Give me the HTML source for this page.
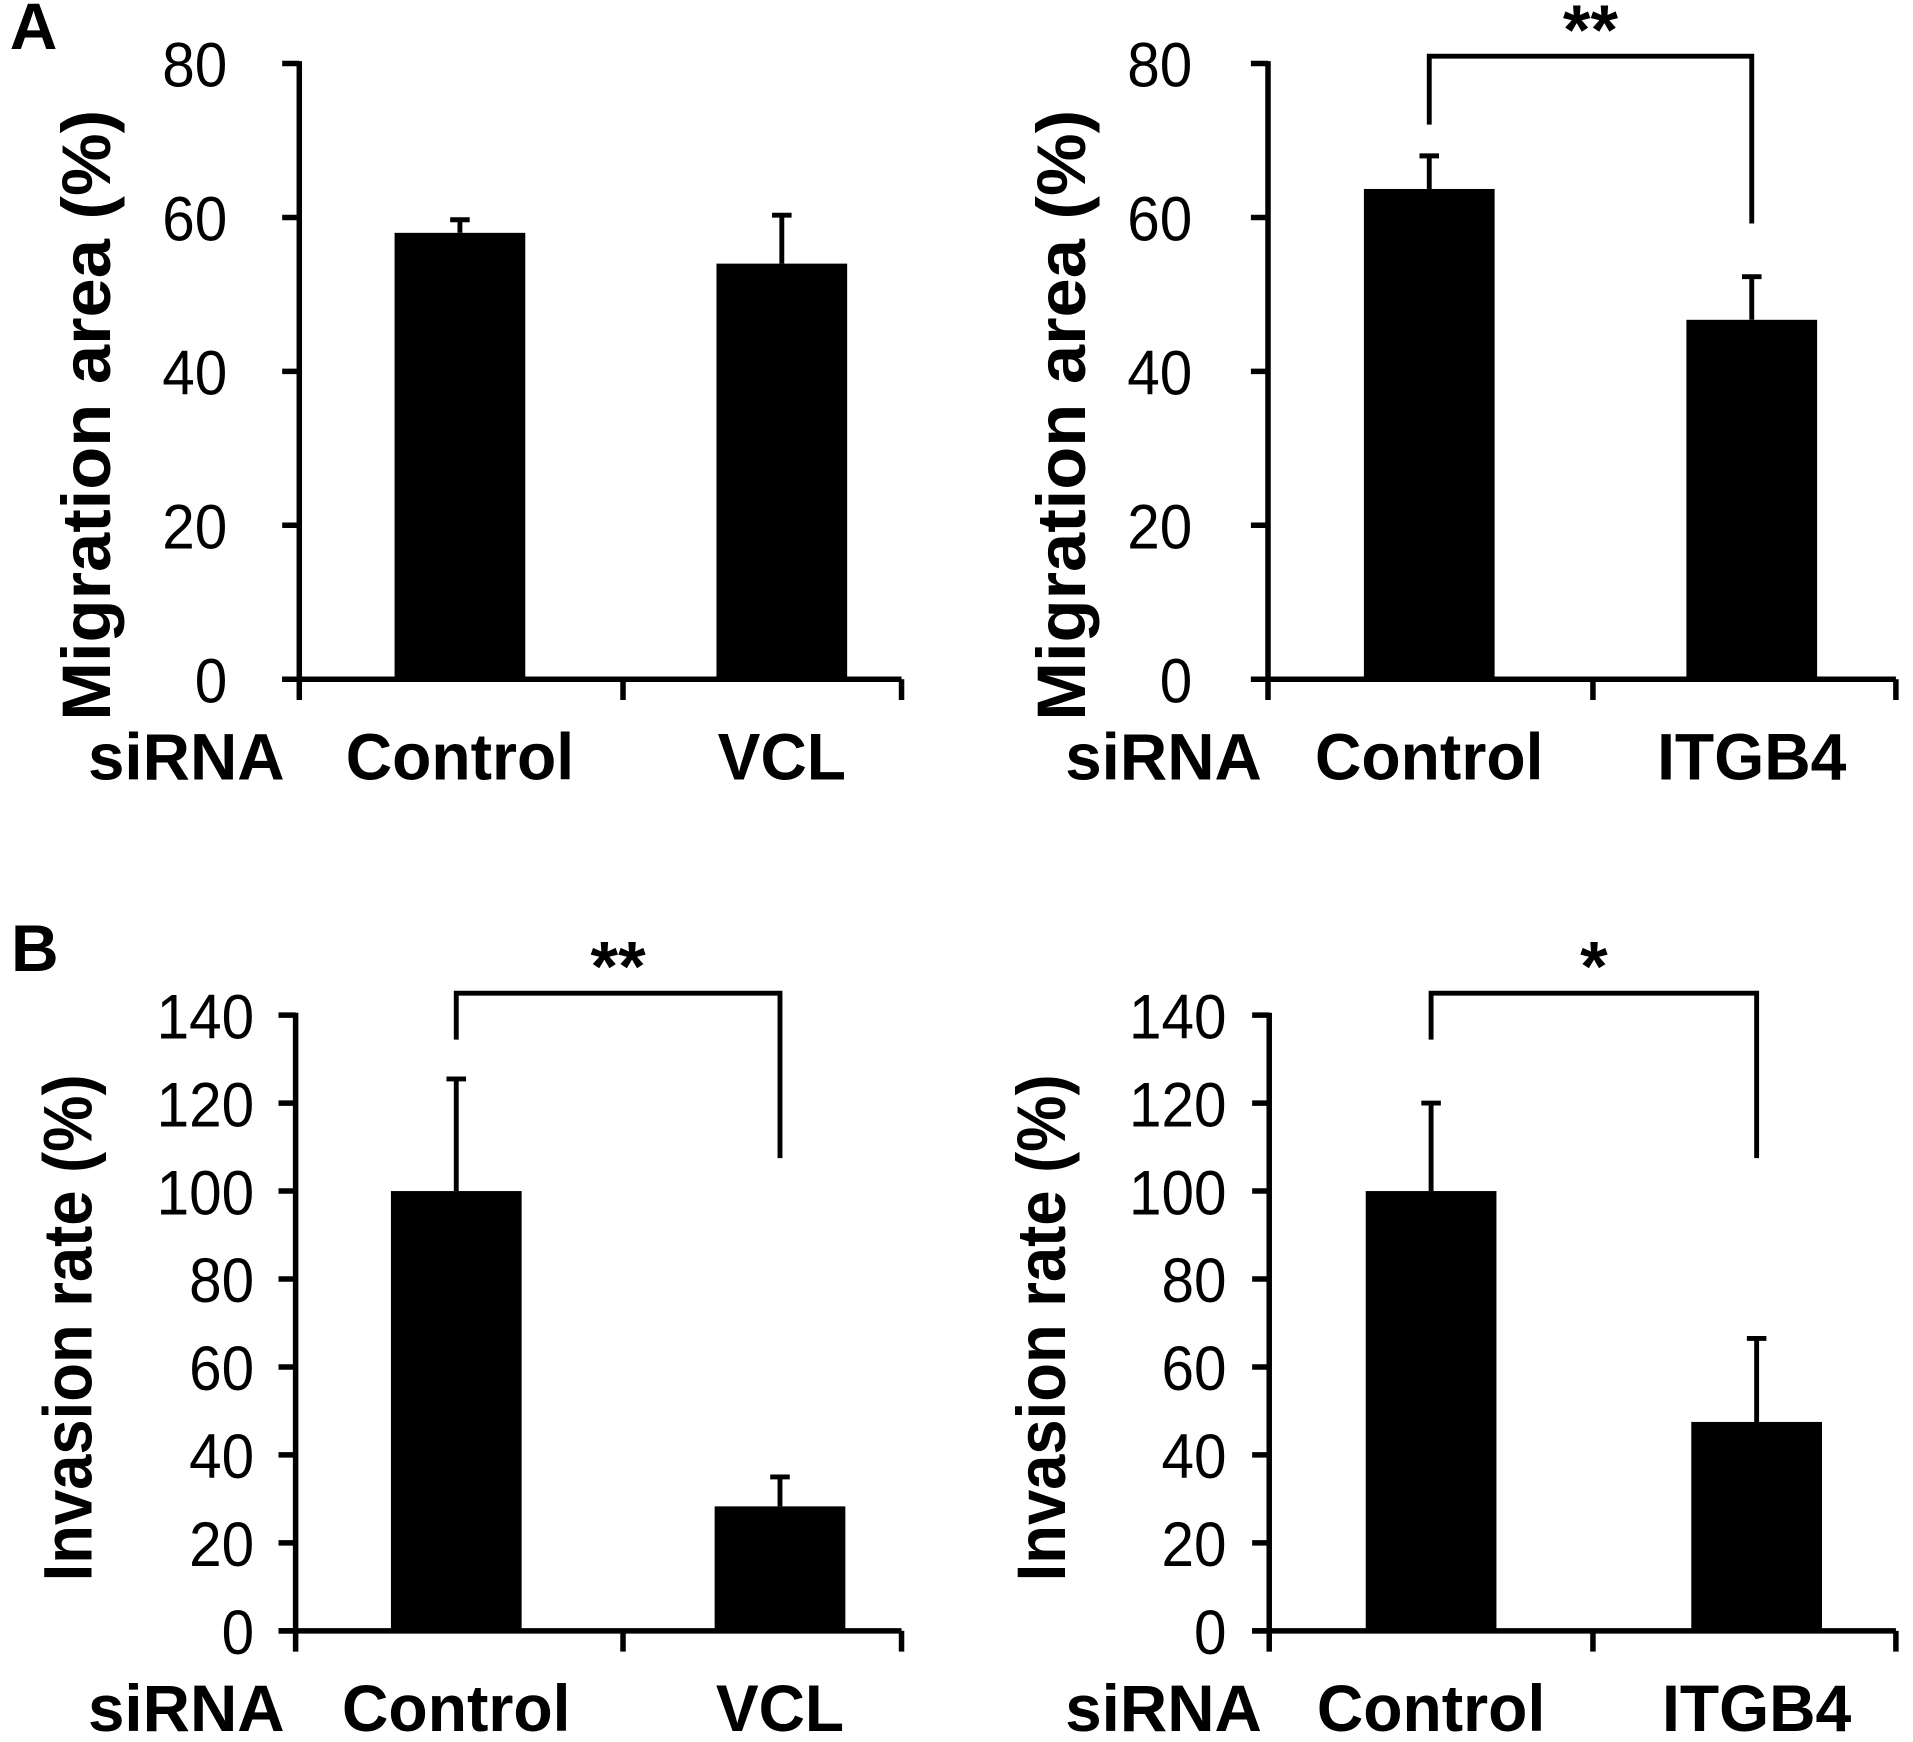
<!DOCTYPE html>
<html><head><meta charset="utf-8"><style>
html,body{margin:0;padding:0;background:#fff;}
svg{display:block;}
text{font-family:"Liberation Sans",Arial,sans-serif;fill:#000;}
</style></head><body>
<svg id="fig" width="1913" height="1742" viewBox="0 0 1566 1426" preserveAspectRatio="none" xmlns="http://www.w3.org/2000/svg">
<text x="8" y="40" font-size="54" font-weight="bold">A</text>
<text x="9" y="795" font-size="54" font-weight="bold">B</text>
</svg>
<script>
const categoriesA1 = ["Control","VCL"];
const valuesA1 = [58, 54];
const errorsA1 = [59.7, 60.3];
const categoriesA2 = ["Control","ITGB4"];
const valuesA2 = [63.7, 46.7];
const errorsA2 = [68, 52.3];
const categoriesB1 = ["Control","VCL"];
const valuesB1 = [100, 28.3];
const errorsB1 = [125.5, 35];
const categoriesB2 = ["Control","ITGB4"];
const valuesB2 = [100, 47.5];
const errorsB2 = [120, 66.5];
const ticksA = [0,20,40,60,80];
const ticksB = [0,20,40,60,80,100,120,140];

const NS="http://www.w3.org/2000/svg";
const svg=document.getElementById('fig');
function mk(tag,attrs,parent){const e=document.createElementNS(NS,tag);for(const k in attrs)e.setAttribute(k,attrs[k]);(parent||svg).appendChild(e);return e;}
const labelW={"Control":187,"VCL":105,"ITGB4":155};

function panel(o){
  const g=mk('g',{});
  
  
  const y=v=>o.y0-(v/o.max)*(o.y0-o.yTop);
  const barW=107;
  const cx=o.cx;
  const ya=mk('line',{x1:o.x0,y1:o.yTop-2,x2:o.x0,y2:o.y0+17,stroke:'#000','stroke-width':4.5},g);
  
  
  const xa=mk('line',{x1:o.x0-14,y1:o.y0,x2:o.x1,y2:o.y0,stroke:'#000','stroke-width':4.5},g);
  
  
  [o.xm, o.x1].forEach(xx=>{
    const t=mk('line',{x1:xx,y1:o.y0,x2:xx,y2:o.y0+17,stroke:'#000','stroke-width':4.5},g);
    
    
  });
  o.ticks.forEach(v=>{
    const t=mk('line',{x1:o.x0-14,y1:y(v),x2:o.x0,y2:y(v),stroke:'#000','stroke-width':4.5},g);
    
    
    const tl=mk('text',{x:0,y:0,'font-size':52,'text-anchor':'end',transform:`translate(${o.labX},${y(v)+19}) scale(0.92,1)`},g);
    tl.textContent=v;
    
    
  });
  o.vals.forEach((v,i)=>{
    const eb=mk('line',{x1:cx[i],y1:y(o.errs[i]),x2:cx[i],y2:y(v),stroke:'#000','stroke-width':4},g);
    
    
    const cap=mk('line',{x1:cx[i]-8,y1:y(o.errs[i]),x2:cx[i]+8,y2:y(o.errs[i]),stroke:'#000','stroke-width':4},g);
    
    
    const r=mk('rect',{x:cx[i]-barW/2,y:y(v),width:barW,height:o.y0-y(v),fill:'#000'},g);
    
    
    const w=labelW[o.cats[i]]||150;
    const cl=mk('text',{x:cx[i]-w/2,y:o.lblY,'font-size':54,'font-weight':'bold',textLength:w,lengthAdjust:'spacingAndGlyphs'},g);
    cl.textContent=o.cats[i];
    
    
  });
  const s=mk('text',{x:o.sx,y:o.lblY,'font-size':54,'font-weight':'bold',textLength:161,lengthAdjust:'spacingAndGlyphs'},g);
  s.textContent='siRNA';
  
  
  const tt=mk('text',{x:-o.titleLen/2,y:0,'font-size':56,'font-weight':'bold',textLength:o.titleLen,lengthAdjust:'spacingAndGlyphs',transform:`translate(${o.titleX},${o.titleY}) rotate(-90)`},g);
  tt.textContent=o.title;
  
  
  if(o.sig){
    const b=mk('path',{d:`M${cx[0]},${o.sig.l} V${o.sig.y} H${cx[1]} V${o.sig.r}`,fill:'none',stroke:'#000','stroke-width':4},g);
    
    
    const st=mk('text',{x:(cx[0]+cx[1])/2,y:o.sig.y-2,'font-size':58,'font-weight':'bold','text-anchor':'middle'},g);
    st.textContent=o.sig.t;
    
    
  }
}
panel({name:'panel-a-vcl',x0:245,x1:738,xm:510,cx:[376.5,640],yTop:52,y0:556,max:80,ticks:ticksA,vals:valuesA1,errs:errorsA1,cats:categoriesA1,labX:186,lblY:638,sx:72,title:'Migration area (%)',titleLen:500,titleX:90,titleY:340});
panel({name:'panel-a-itgb4',x0:1038,x1:1552,xm:1304,cx:[1170,1434],yTop:52,y0:556,max:80,ticks:ticksA,vals:valuesA2,errs:errorsA2,cats:categoriesA2,labX:976,lblY:638,sx:872,title:'Migration area (%)',titleLen:500,titleX:888,titleY:340,sig:{y:46,l:102,r:183,t:'**'}});
panel({name:'panel-b-vcl',x0:242,x1:738,xm:510,cx:[373.5,638.5],yTop:831,y0:1335,max:140,ticks:ticksB,vals:valuesB1,errs:errorsB1,cats:categoriesB1,labX:208,lblY:1417,sx:72,title:'Invasion rate (%)',titleLen:415,titleX:75,titleY:1087,sig:{y:813,l:851,r:948,t:'**'}});
panel({name:'panel-b-itgb4',x0:1039,x1:1552,xm:1304,cx:[1171.5,1438],yTop:831,y0:1335,max:140,ticks:ticksB,vals:valuesB2,errs:errorsB2,cats:categoriesB2,labX:1004,lblY:1417,sx:872,title:'Invasion rate (%)',titleLen:415,titleX:872,titleY:1087,sig:{y:813,l:851,r:948,t:'*'}});
</script>
</body></html>
